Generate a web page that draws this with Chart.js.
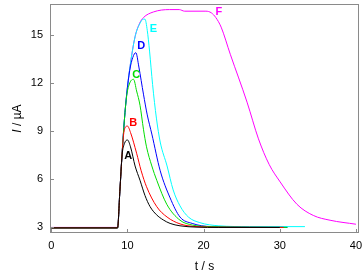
<!DOCTYPE html>
<html>
<head>
<meta charset="utf-8">
<script src="https://cdn.jsdelivr.net/npm/chart.js@4.4.1/dist/chart.umd.min.js"></script>
<style>
  html, body { margin: 0; padding: 0; background: #fff; }
  #wrap { width: 363px; height: 278px; }
</style>
</head>
<body>
<div id="wrap"><canvas id="chart" width="363" height="278"></canvas></div>
<script>
// time (s) and current (uA), one pair per curve
const tA = [0, 8.7, 9.0, 9.3, 9.6, 10.0, 10.4, 11.0, 11.65, 12.3, 12.97, 13.8, 14.7, 15.6, 16.9, 19, 22, 30];
const iA = [2.92, 2.92, 5.2, 7.5, 8.2, 8.43, 8.0, 6.8, 5.9, 4.95, 4.25, 3.75, 3.42, 3.2, 3.05, 2.97, 2.95, 2.95];

const tB = [0, 8.7, 9.0, 9.3, 9.5, 9.75, 10.0, 10.4, 11.2, 11.8, 12.5, 13.85, 15.2, 16.9, 19, 22, 30.5];
const iB = [2.92, 2.92, 5.2, 7.6, 8.8, 9.25, 9.3, 8.9, 7.6, 6.5, 5.5, 4.25, 3.6, 3.17, 3.0, 2.96, 2.95];

const tC = [0, 8.7, 9.0, 9.3, 9.6, 9.9, 10.3, 10.8, 11.2, 11.65, 12.1, 12.5, 13.2, 13.85, 15.16, 16.9, 18.5, 21, 31];
const iC = [2.92, 2.92, 5.2, 7.6, 9.7, 11.2, 12.0, 12.23, 11.5, 10.6, 9.1, 8.0, 6.8, 5.9, 4.4, 3.4, 3.1, 3.0, 2.95];

const tD = [0, 8.7, 9.0, 9.3, 9.6, 9.9, 10.3, 10.7, 11.1, 11.5, 12.1, 12.6, 13.2, 14.3, 15.6, 16.9, 18.5, 21, 31];
const iD = [2.92, 2.92, 5.2, 7.6, 9.7, 11.3, 12.8, 13.6, 13.9, 13.0, 11.3, 10.0, 8.8, 6.5, 4.8, 3.6, 3.2, 3.0, 2.95];

const tE = [0, 8.7, 9.0, 9.3, 9.6, 9.9, 10.3, 11.0, 11.6, 12.1, 12.3, 12.6, 12.9, 13.3, 13.8, 14.3, 15.2, 16.0, 16.9, 18, 19.5, 22, 26, 33.3];
const iE = [2.92, 2.92, 5.2, 7.6, 9.7, 11.3, 12.9, 14.9, 15.7, 16.0, 16.0, 15.3, 14.0, 11.9, 9.8, 8.3, 6.8, 5.3, 4.3, 3.6, 3.25, 3.05, 3.0, 3.0];

const tF = [0, 8.7, 9.0, 9.3, 9.6, 9.9, 10.3, 11.0, 11.6, 12.1, 13.4, 15.5, 16.8, 17.5, 20.3, 21.0, 21.6, 22.3, 23.5, 25.7, 27.2, 28.6, 30.05, 32.25, 34.4, 36.6, 40];
const iF = [2.95, 2.95, 5.2, 7.6, 9.7, 11.3, 12.9, 14.9, 15.75, 16.1, 16.45, 16.6, 16.6, 16.5, 16.5, 16.4, 16.1, 15.5, 13.8, 10.8, 8.5, 6.9, 5.8, 4.4, 3.7, 3.4, 3.15];

const seriesNames = ['A', 'B', 'C', 'D', 'E', 'F'];
const seriesColors = ['#000000', '#ff0000', '#00dd00', '#0000ff', '#00ffff', '#ff00ff'];
// where each letter sits, in data units
const labelT = [10.1, 10.75, 11.15, 11.8, 13.4, 22.0];
const labelI = [7.4, 9.5, 12.5, 14.3, 15.4, 16.45];

const xTicks = [0, 10, 20, 30, 40];
const yTicks = [3, 6, 9, 12, 15];

const times = [tA, tB, tC, tD, tE, tF];
const currents = [iA, iB, iC, iD, iE, iF];

const datasets = seriesNames.map((name, k) => ({
  label: name,
  data: times[k].map((t, j) => ({ x: t, y: currents[k][j] })),
  borderColor: seriesColors[k],
  borderWidth: 1,
  pointRadius: 0,
  fill: false,
  cubicInterpolationMode: 'monotone'
}));

const frameColor = '#8a8a8a';

const framePlugin = {
  id: 'frame',
  afterDatasetsDraw(chart) {
    const ctx = chart.ctx;
    const a = chart.chartArea;
    const xs = chart.scales.x, ys = chart.scales.y;
    ctx.save();
    ctx.strokeStyle = frameColor;
    ctx.lineWidth = 1;
    ctx.strokeRect(a.left + 0.5, a.top + 0.5, a.right - a.left - 1, a.bottom - a.top - 1);
    ctx.beginPath();
    xTicks.forEach(v => {
      const px = Math.round(xs.getPixelForValue(v)) + 0.5;
      ctx.moveTo(px, a.bottom);
      ctx.lineTo(px, a.bottom - 4);
    });
    yTicks.forEach(v => {
      const py = Math.round(ys.getPixelForValue(v)) + 0.5;
      ctx.moveTo(a.left, py);
      ctx.lineTo(a.left + 4, py);
    });
    ctx.stroke();

    // curve letters
    ctx.font = 'bold 11px "Liberation Sans", Arial, sans-serif';
    ctx.textAlign = 'center';
    ctx.textBaseline = 'middle';
    seriesNames.forEach((name, k) => {
      ctx.fillStyle = seriesColors[k];
      ctx.fillText(name, xs.getPixelForValue(labelT[k]), ys.getPixelForValue(labelI[k]));
    });

    // y title with italic I
    ctx.fillStyle = '#000';
    ctx.translate(18, (a.top + a.bottom) / 2);
    ctx.rotate(-Math.PI / 2);
    ctx.textAlign = 'left';
    ctx.font = 'italic 12px "Liberation Sans", Arial, sans-serif';
    const w1 = ctx.measureText('I').width;
    ctx.font = '12px "Liberation Sans", Arial, sans-serif';
    const w2 = ctx.measureText(' / \u00b5A').width;
    const start = -(w1 + w2) / 2;
    ctx.font = 'italic 12px "Liberation Sans", Arial, sans-serif';
    ctx.fillText('I', start, 0);
    ctx.font = '12px "Liberation Sans", Arial, sans-serif';
    ctx.fillText(' / \u00b5A', start + w1, 0);
    ctx.restore();
  }
};

const tickFont = { family: '"Liberation Sans", Arial, sans-serif', size: 11 };

new Chart(document.getElementById('chart'), {
  type: 'line',
  data: { datasets: datasets },
  options: {
    responsive: false,
    animation: false,
    layout: { padding: { top: 4, right: 4, left: 0, bottom: 0 } },
    plugins: { legend: { display: false }, tooltip: { enabled: false } },
    scales: {
      x: {
        type: 'linear',
        min: -0.17,
        max: 40.4,
        afterBuildTicks: s => { s.ticks = xTicks.map(v => ({ value: v })); },
        afterFit: s => { s.height = 45; s.paddingLeft = 0; s.paddingRight = 0; },
        grid: { display: false, drawTicks: false },
        border: { display: false },
        ticks: { color: '#000', font: tickFont, padding: 6, maxRotation: 0 },
        title: { display: true, text: 't / s', color: '#000', font: { family: '"Liberation Sans", Arial, sans-serif', size: 12 }, padding: { top: 6 } }
      },
      y: {
        type: 'linear',
        min: 2.6,
        max: 16.95,
        afterBuildTicks: s => { s.ticks = yTicks.map(v => ({ value: v })); },
        afterFit: s => { s.width = 50; s.paddingTop = 0; s.paddingBottom = 0; },
        grid: { display: false, drawTicks: false },
        border: { display: false },
        ticks: { color: '#000', font: tickFont, padding: 7 }
      }
    }
  },
  plugins: [framePlugin]
});
</script>
</body>
</html>
